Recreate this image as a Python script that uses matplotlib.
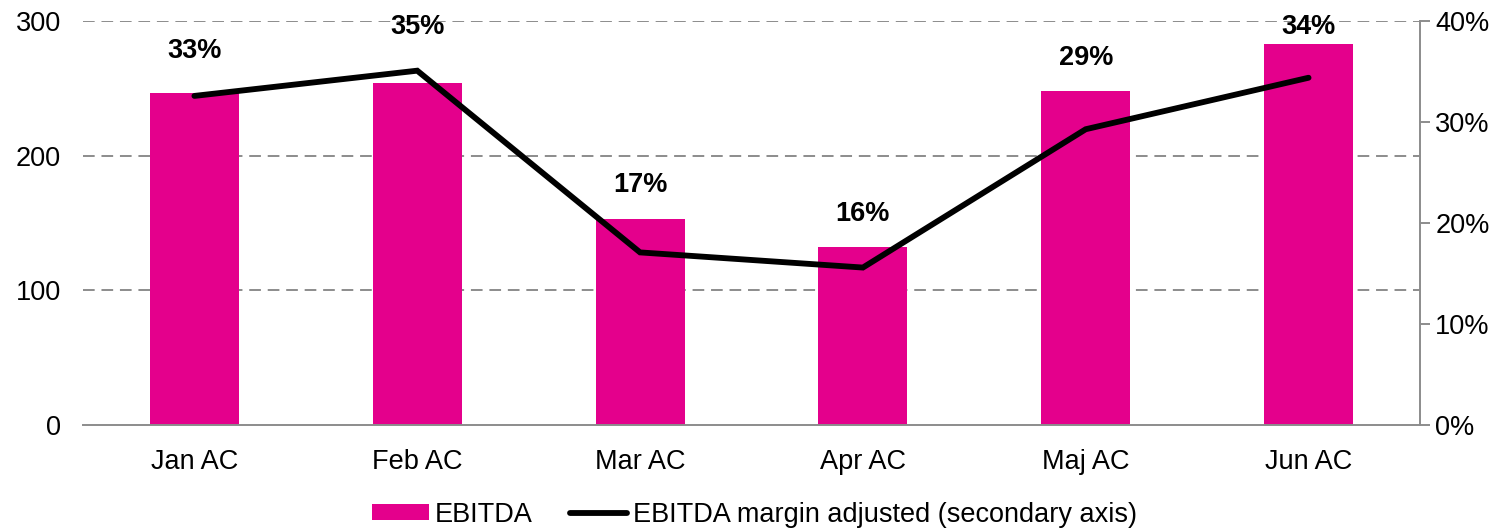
import matplotlib
matplotlib.use("Agg")
import matplotlib.pyplot as plt
from matplotlib.ticker import FuncFormatter

plt.rcParams["font.family"] = ["Liberation Sans", "DejaVu Sans"]

months = ["Jan AC", "Feb AC", "Mar AC", "Apr AC", "Maj AC", "Jun AC"]
ebitda = [247, 254, 153, 132, 248, 283]
margin_pct = [32.6, 35.1, 17.1, 15.6, 29.3, 34.4]

BAR = "#E4008C"
GRID = "#8C8C8C"
FS = 19.5

fig = plt.figure(figsize=(15.09, 5.30), dpi=100)
ax = fig.add_axes([0.055, 0.198, 0.886, 0.762])
ax2 = ax.twinx()

x = list(range(len(months)))
bars = ax.bar(x, ebitda, width=0.4, color=BAR, label="EBITDA", zorder=2)
line, = ax2.plot(x, margin_pct, color="black", lw=4.2, solid_capstyle="round",
                 solid_joinstyle="miter", label="EBITDA margin adjusted (secondary axis)",
                 zorder=3)

ax.set_xlim(-0.5, len(months) - 0.5)
ax.set_ylim(0, 300)
ax.set_yticks([0, 100, 200, 300])
ax2.set_ylim(0, 40)
ax2.set_yticks([0, 10, 20, 30, 40])
ax2.yaxis.set_major_formatter(FuncFormatter(lambda v, _: f"{v:.0f}%"))

for y in (100, 200, 300):
    ax.axhline(y, color=GRID, lw=1.4, ls=(0, (6, 3.5)), zorder=1)

for a in (ax, ax2):
    for side in ("top", "left"):
        a.spines[side].set_visible(False)
ax.spines["right"].set_visible(False)
ax2.spines["bottom"].set_visible(False)
ax.spines["bottom"].set_color(GRID)
ax.spines["bottom"].set_linewidth(1.4)
ax2.spines["right"].set_color(GRID)
ax2.spines["right"].set_linewidth(1.4)

ax.tick_params(axis="y", length=0, labelsize=FS, pad=16)
ax.tick_params(axis="x", length=0, labelsize=FS, pad=17)
ax2.tick_params(axis="y", length=7, width=1.4, color=GRID, labelsize=FS, pad=4)
ax.set_xticks(x)
ax.set_xticklabels(months)

# percent labels sit above the bar top or, if higher, a bit further above the line
scale = 300 / 40
for xi, b, m in zip(x, ebitda, margin_pct):
    ly = min(max(b + 25, m * scale + 33), 296)
    ax.text(xi, ly, f"{m:.0f}%", ha="center", va="center", fontsize=FS,
            fontweight="bold", zorder=4)

ax.set_zorder(ax2.get_zorder() - 1)
ax.patch.set_visible(False)

fig.legend([bars, line], [bars.get_label(), line.get_label()], loc="lower center",
           bbox_to_anchor=(0.5, -0.042), ncol=2, frameon=False, fontsize=FS,
           handlelength=2.1, handleheight=0.55, handletextpad=0.2, columnspacing=1.4)

fig.savefig("out.png", dpi=100)
